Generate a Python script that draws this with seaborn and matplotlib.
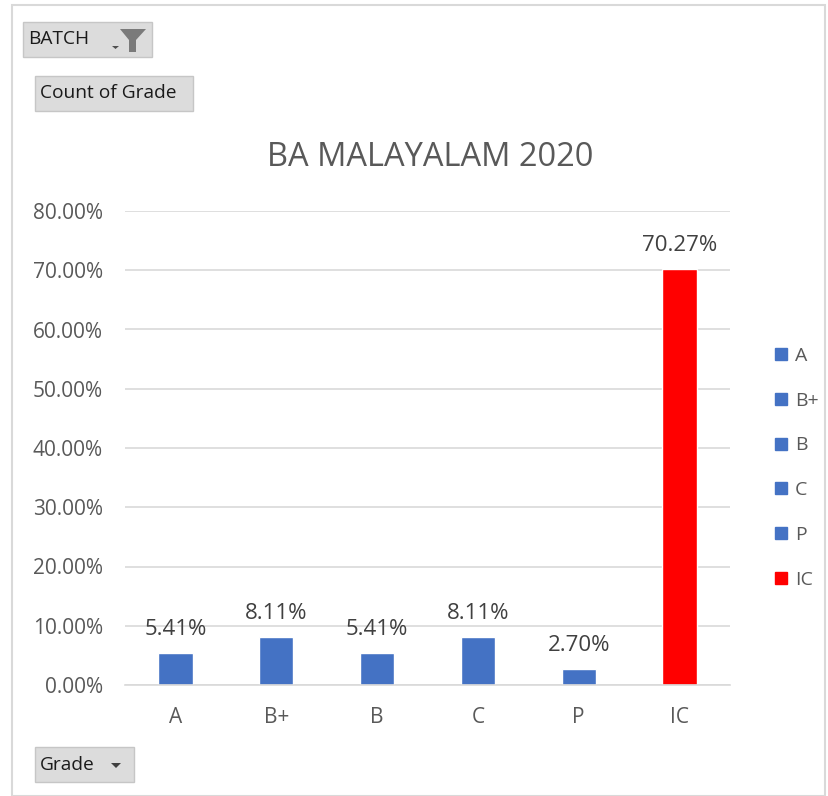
import matplotlib
matplotlib.use("Agg")
import matplotlib.pyplot as plt
from matplotlib.patches import Polygon, Rectangle
from matplotlib.lines import Line2D
import pandas as pd
import seaborn as sns

# data
grades = ["A", "B+", "B", "C", "P", "IC"]
share = [5.41, 8.11, 5.41, 8.11, 2.70, 70.27]
bar_colors = ["#4472c4", "#4472c4", "#4472c4", "#4472c4", "#4472c4", "#ff0000"]

df = pd.DataFrame({"Grade": grades, "Share": share})
palette = dict(zip(grades, bar_colors))

sns.set_style("white")
plt.rcParams["font.family"] = ["Open Sans", "DejaVu Sans"]

W, H = 829, 796
fig = plt.figure(figsize=(W / 100, H / 100), dpi=100)
ax = fig.add_axes([125 / W, 1 - 685 / H, 605 / W, 474 / H])

sns.barplot(data=df, x="Grade", y="Share", hue="Grade", palette=palette,
            dodge=False, width=0.34, legend=False, ax=ax, saturation=1)

ax.set_ylim(0, 80)
ax.set_xlim(-0.5, 5.5)
ax.set_yticks(range(0, 81, 10))
ax.set_yticklabels([f"{v:.2f}%" for v in range(0, 81, 10)])
ax.grid(axis="y", color="#d9d9d9", linewidth=1.2)
ax.set_axisbelow(True)
for s in ["top", "right", "left"]:
    ax.spines[s].set_visible(False)
ax.spines["bottom"].set_color("#d9d9d9")
ax.spines["bottom"].set_linewidth(1.2)
ax.tick_params(axis="both", length=0, labelsize=15, colors="#595959")
ax.tick_params(axis="x", pad=16)
ax.tick_params(axis="y", pad=16)
ax.set_xlabel("")
ax.set_ylabel("")

for i, v in enumerate(share):
    ax.text(i, v + 3.0, f"{v:.2f}%", ha="center", va="baseline",
            fontsize=16, color="#404040")

fig.text(430 / W, 1 - 157 / H, "BA MALAYALAM 2020", ha="center", va="center",
         fontsize=23.5, color="#595959")

# legend
handles = [Line2D([], [], marker="s", linestyle="", markersize=9,
                  markerfacecolor=palette[g], markeredgecolor=palette[g]) for g in grades]
fig.legend(handles, grades, loc="upper left", bbox_to_anchor=(764 / W, 1 - 337 / H),
           frameon=False, fontsize=14, labelcolor="#595959", handlelength=0.8,
           handletextpad=0.3, labelspacing=1.38, borderpad=0)

# chart border
fig.add_artist(Rectangle((12 / W, 0), (825 - 12) / W, 1 - 5 / H, transform=fig.transFigure,
                         fill=False, edgecolor="#d9d9d9", linewidth=1.5))

# pivot field buttons
def button(x0, y0, x1, y1, label):
    fig.add_artist(Rectangle((x0 / W, 1 - y1 / H), (x1 - x0) / W, (y1 - y0) / H,
                             transform=fig.transFigure, facecolor="#dcdcdc",
                             edgecolor="#c6c6c6", linewidth=1))
    fig.text((x0 + 5) / W, 1 - (y0 + y1) / 2 / H, label, ha="left", va="center",
             fontsize=13.8, color="#1a1a1a")

button(23, 22, 152, 57, "BATCH")
button(35, 76, 193, 111, "Count of Grade")
button(35, 747, 134, 782, "Grade")

# filter funnel icon on BATCH button
funnel = [(120, 29), (146, 29), (136, 40), (136, 52), (129, 52), (129, 40)]
fig.add_artist(Polygon([(x / W, 1 - y / H) for x, y in funnel], closed=True,
                       transform=fig.transFigure, facecolor="#7a7a7a", edgecolor="none"))
fig.add_artist(Polygon([(x / W, 1 - y / H) for x, y in [(112, 46), (119, 46), (115.5, 49)]],
                       closed=True, transform=fig.transFigure, facecolor="#505050",
                       edgecolor="none"))
# dropdown arrow on Grade button
fig.add_artist(Polygon([(x / W, 1 - y / H) for x, y in [(111, 763), (121, 763), (116, 768)]],
                       closed=True, transform=fig.transFigure, facecolor="#404040",
                       edgecolor="none"))

fig.savefig("out.png", dpi=100, facecolor="white")
